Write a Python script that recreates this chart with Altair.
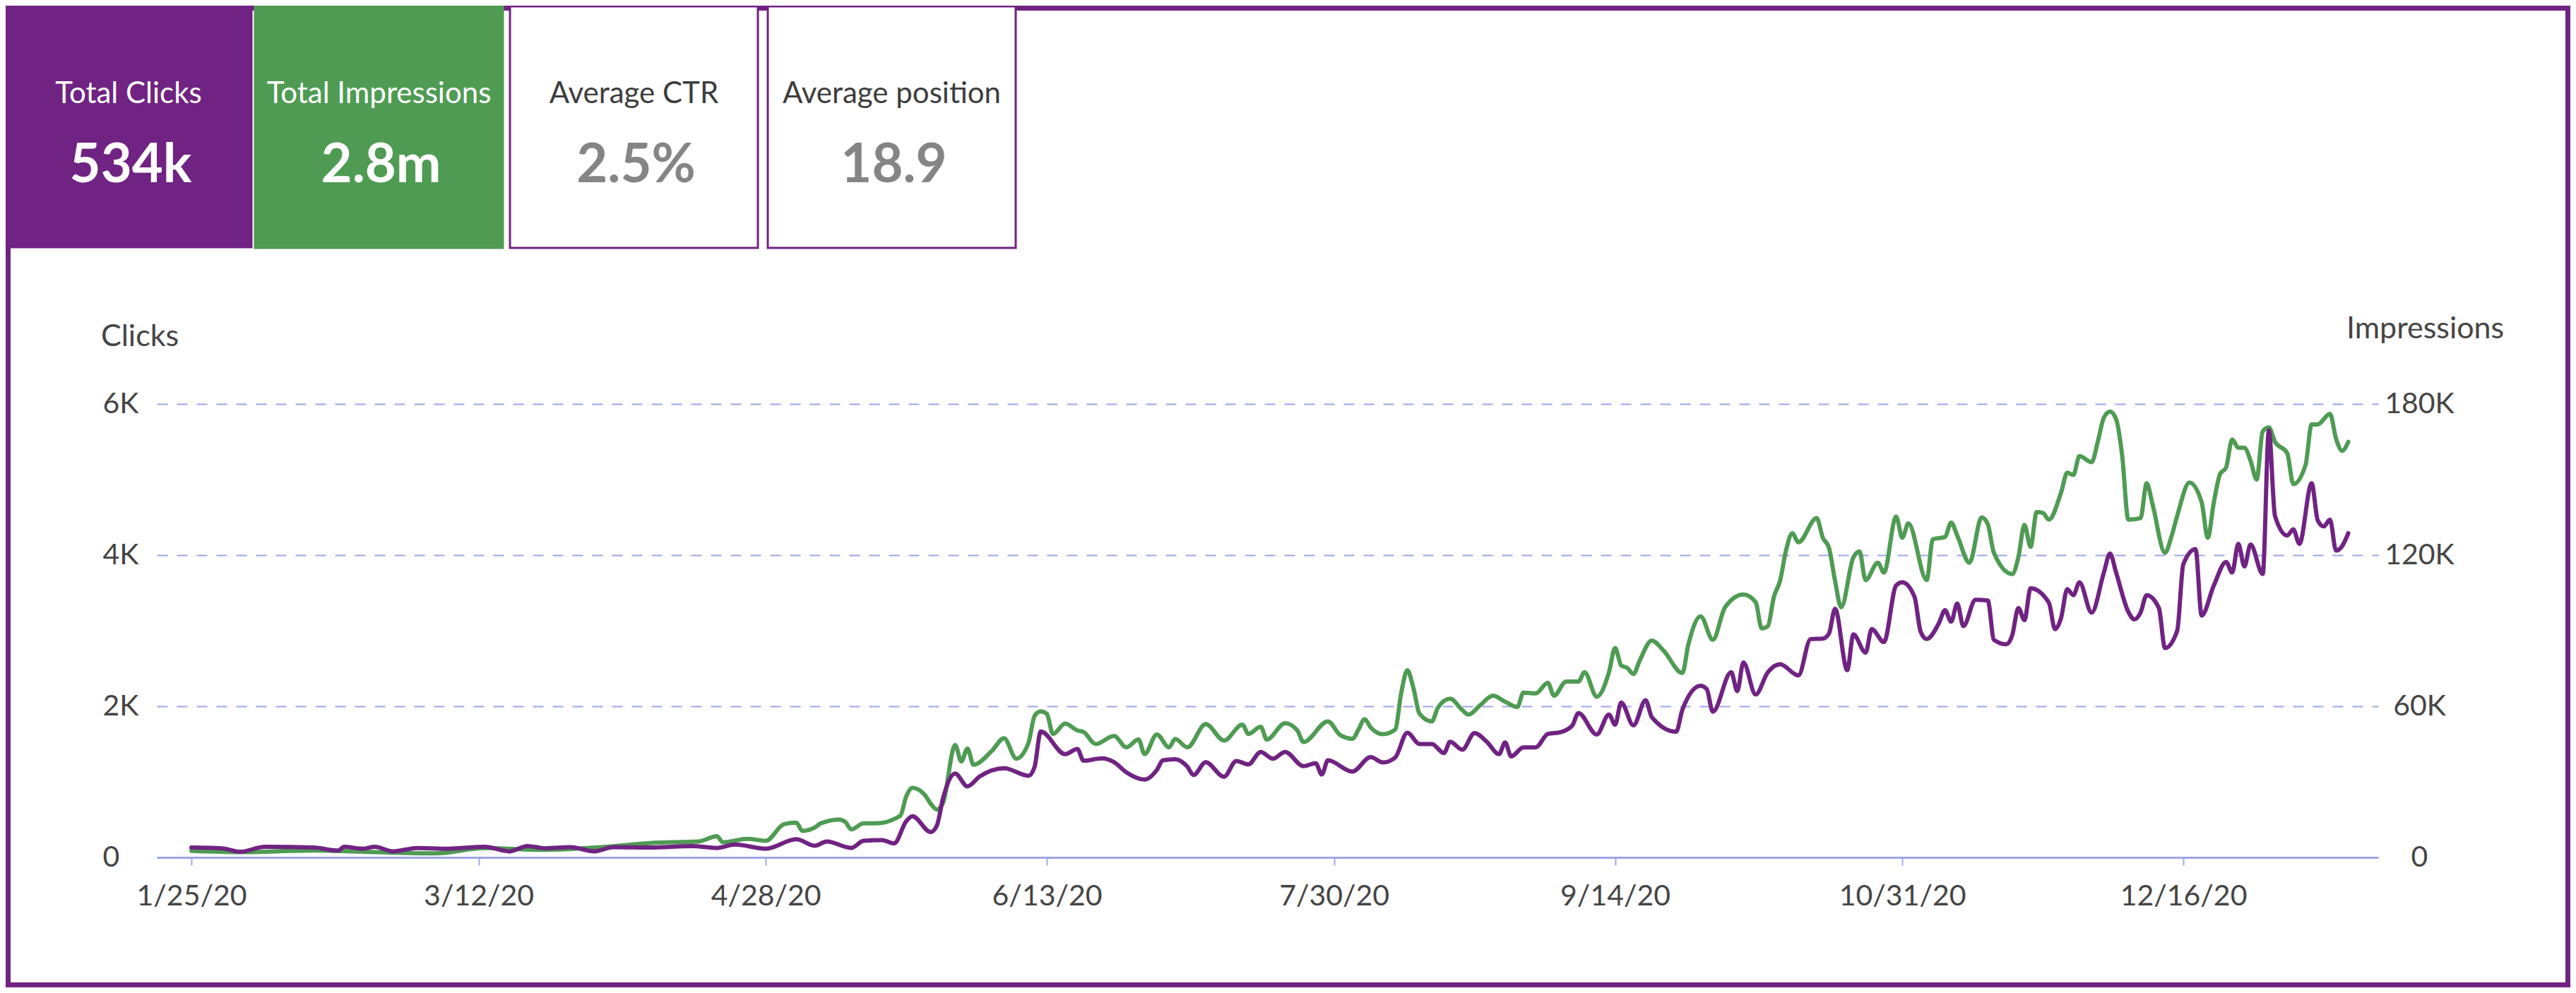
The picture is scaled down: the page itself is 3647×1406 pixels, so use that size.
import altair as alt
import pandas as pd

# ---------------- data ----------------
START = "2020-01-25"

click_days = [0, 5, 8, 12, 20, 24, 25, 28, 30, 33, 37, 42, 48, 52, 55, 58, 62, 66, 69, 75, 82, 86, 89, 94, 99,
              102, 104, 108, 110, 113, 115, 117, 118, 121, 122, 123, 125, 127, 129, 133, 137, 138, 139, 143, 145,
              146, 149, 151, 153, 156, 158, 159, 161, 163, 164, 166, 169, 171, 173, 175, 177, 179, 182, 184, 185,
              186, 190, 193, 195, 197, 199, 201, 203, 205, 206, 208, 210, 212, 214, 215, 216, 218, 220, 222, 224,
              226, 227, 230, 232, 233, 234, 236, 238, 239, 243, 244, 247, 248, 249, 252, 253, 254, 256, 258, 260,
              263, 265, 267, 268, 269, 271, 272, 274, 275, 277, 279, 280, 282, 283, 284, 286, 287, 288, 289, 290,
              292, 294, 295, 297, 298, 299, 300, 301, 304, 305, 306, 307, 308, 309, 311, 313, 314, 315, 317, 318,
              319, 320, 322, 323, 325, 326, 328, 329, 331, 333, 334, 335, 336, 337, 339, 340, 341, 343, 344, 345,
              347, 348, 349, 350, 351, 352, 353]
clicks = [130, 120, 75, 140, 130, 90, 140, 115, 140, 80, 125, 115, 140, 80, 150, 120, 135, 80, 135, 130, 150, 125,
          170, 115, 240,
          155, 210, 125, 220, 230, 185, 480, 545, 335, 420, 780, 1110, 940, 1070, 1180, 1080, 1200, 1665, 1366, 1435,
          1280, 1310, 1260, 1127, 1030, 1157, 1285, 1300, 1200, 1090, 1260, 1067, 1276, 1231, 1396, 1306, 1396, 1208,
          1246, 1097,
          1285, 1136, 1327, 1256, 1320, 1650, 1500, 1500, 1381, 1531, 1426, 1644, 1531, 1366, 1520, 1336, 1456, 1456,
          1635, 1656,
          1746, 1910, 1626, 1890, 1755, 2050, 1747, 2080, 1857, 1663, 1950, 2270, 2226, 1928, 2450, 2200, 2580, 2156,
          2450, 2557,
          2408, 2889, 2895, 2960, 3290, 2478, 2950, 2710, 3020, 2850, 3600, 3640, 3450, 2990, 2890, 3100, 3270, 3120,
          3360, 3060,
          3410, 3400, 2880, 2820, 2940, 3300, 3140, 3560, 3370, 3020, 3170, 3550, 3470, 3640, 3240, 3770, 4020, 3770,
          3250, 3150,
          3240, 3470, 3300, 2770, 3000, 3880, 4080, 3200, 3600, 3910, 3770, 4150, 3850, 4140, 3750, 5650, 4520, 4260,
          4340, 4150,
          4950, 4460, 4380, 4470, 4060, 4120, 4290]

impr_days = [0, 8, 20, 30, 40, 48, 57, 68, 75, 83, 86, 87, 91, 94, 97, 99, 100, 102, 103, 106, 107, 108, 110, 112,
             116, 117, 118, 120, 121, 122, 123, 125, 126, 127, 128, 131, 133, 135, 137, 138, 139, 140, 141, 143,
             145, 146, 148, 151, 153, 155, 156, 158, 160, 161, 163, 166, 169, 172, 173, 175, 176, 179, 181, 182,
             186, 188, 190, 191, 192, 193, 195, 197, 198, 199, 200, 201, 203, 204, 206, 208, 209, 211, 213, 215,
             217, 218, 220, 222, 223, 225, 227, 228, 230, 232, 233, 234, 235, 236, 237, 239, 241, 244, 245, 247,
             249, 251, 254, 256, 257, 258, 259, 260, 261, 262, 263, 266, 267, 268, 269, 270, 272, 273, 274, 276,
             277, 279, 280, 281, 284, 285, 287, 288, 289, 291, 293, 294, 295, 298, 299, 300, 301, 302, 303, 304,
             306, 307, 308, 309, 311, 312, 313, 314, 315, 316, 317, 319, 320, 321, 323, 324, 325, 327, 329, 330,
             331, 332, 333, 334, 335, 336, 337, 338, 339, 340, 341, 343, 344, 346, 347, 348, 350, 351, 352, 353]
impressions = [2610, 2100, 2700, 2100, 1620, 3750, 3000, 4200, 5700, 6300, 8400, 6000, 7350, 6600, 13200, 13800,
               10500, 11850, 13500, 15000, 14100, 11100, 13500, 13500,
               16500, 24300, 27600, 24900, 21300, 19000, 21600, 44600, 38100, 43200, 36800, 42300, 47300, 39200,
               45500, 56200, 58000, 57000, 49000, 53100,
               50400, 49800, 45000, 48200, 43700, 46800, 41000, 48800, 43700, 47000, 43700, 52900, 46400, 52700,
               49000, 51900, 46800, 53300, 50400, 45800,
               54000, 48600, 47100, 50700, 54900, 51600, 48900, 50700, 65300, 74300, 67200, 57000, 54000, 59400,
               63000, 58500, 56700, 60600, 64200, 61800,
               59700, 65400, 65100, 69300, 64200, 69800, 69800, 73500, 63800, 73500, 83100, 76200, 75200, 72800,
               78000, 86100, 81900, 73200, 84600, 95700,
               86400, 99300, 104400, 101400, 90900, 91800, 103500, 109800, 122100, 128700, 125100, 134700, 126900,
               123000, 109800, 99300, 119100, 121500, 110100, 117000,
               113100, 135300, 126900, 132600, 110100, 126300, 127200, 132900, 127800, 117000, 135000, 132300,
               120900, 112500, 119100, 132000, 123300, 137100, 136800, 134100,
               144900, 152700, 151800, 159300, 156900, 165000, 174600, 177000, 174000, 159300, 134100, 134700,
               148500, 139800, 120900, 126900, 135600, 148800, 141000, 126900,
               141000, 152100, 154800, 165900, 162600, 162600, 157500, 150000, 169200, 170700, 165000, 160500,
               148200, 155700, 171900, 171900, 176100, 166200, 161400, 165000]

x_tick_dates = [(2020, 1, 25), (2020, 3, 12), (2020, 4, 28), (2020, 6, 13),
                (2020, 7, 30), (2020, 9, 14), (2020, 10, 31), (2020, 12, 16)]
click_ticks = [0, 2000, 4000, 6000]
impr_ticks = [0, 60000, 120000, 180000]

card_labels = ["Total Clicks", "Total Impressions", "Average CTR", "Average position"]
card_values = ["534k", "2.8m", "2.5%", "18.9"]

# ---------------- style ----------------
PURPLE = "#702382"
GREEN = "#4f9b53"
GRID = "#9ea6e6"
TEXT = "#454545"
GRAYV = "#858585"
FONT = "Lato"

W, H = 3145, 642
PAD = {"left": 214, "top": 564, "right": 272, "bottom": 184}
OX, OY = 222, 572  # page position of plot origin


def px(X):
    return X - OX


def py(Y):
    return Y - OY


def to_dates(days):
    b = pd.Timestamp(START)
    return [(b + pd.Timedelta(days=int(d))).strftime("%Y-%m-%dT00:00:00") for d in days]


clicks_df = pd.DataFrame({"date": to_dates(click_days), "clicks": clicks})
impr_df = pd.DataFrame({"date": to_dates(impr_days), "impressions": impressions})
one = pd.DataFrame({"k": [0]})

x_scale = alt.Scale(domain=[alt.DateTime(year=2020, month=1, date=19, hours=8),
                            alt.DateTime(year=2021, month=1, date=16, hours=21, minutes=36)])
x_axis = alt.Axis(values=[alt.DateTime(year=y, month=m, date=d) for (y, m, d) in x_tick_dates],
                  format="%-m/%-d/%y", title=None, grid=False,
                  domain=True, domainColor=GRID, domainWidth=3,
                  ticks=True, tickColor=GRID, tickSize=11, tickWidth=2,
                  labelFont=FONT, labelFontSize=41, labelColor=TEXT, labelPadding=24,
                  labelFlush=False, labelOverlap=False, labelBaseline="top")

x_enc = alt.X("date:T", scale=x_scale, axis=x_axis)

impr_line = alt.Chart(impr_df).mark_line(
    interpolate="monotone", strokeWidth=6, color=GREEN, strokeCap="round", strokeJoin="round"
).encode(
    x=x_enc,
    y=alt.Y("impressions:Q", scale=alt.Scale(domain=[0, 180000], nice=False),
            axis=alt.Axis(orient="right", values=impr_ticks, title=None, grid=False, domain=False,
                          ticks=False, tickSize=0, labelAlign="center", labelPadding=58,
                          labelBaseline="middle",
                          labelExpr="datum.value == 0 ? '0' : (datum.value / 1000) + 'K'",
                          labelFont=FONT, labelFontSize=41, labelColor=TEXT)),
)

click_line = alt.Chart(clicks_df).mark_line(
    interpolate="monotone", strokeWidth=6, color=PURPLE, strokeCap="round", strokeJoin="round"
).encode(
    x=x_enc,
    y=alt.Y("clicks:Q", scale=alt.Scale(domain=[0, 6000], nice=False),
            axis=alt.Axis(orient="left", values=click_ticks, title=None, grid=True,
                          gridColor=GRID, gridDash=[15, 13], gridWidth=2, domain=False,
                          ticks=False, tickSize=0, labelAlign="left", labelPadding=77,
                          labelBaseline="middle",
                          labelExpr="datum.value == 0 ? '0' : (datum.value / 1000) + 'K'",
                          labelFont=FONT, labelFontSize=41, labelColor=TEXT)),
)

# ---------------- decorations: frame, cards, axis titles ----------------
layers = []

frame = alt.Chart(one).mark_rect(fillOpacity=0, stroke=PURPLE, strokeWidth=7).encode(
    x=alt.value(px(11.5)), x2=alt.value(px(3635.5)), y=alt.value(py(11.5)), y2=alt.value(py(1394.5)))
layers.append(frame)

cards = [
    (8, 356, 8, 350, PURPLE, PURPLE, "white", "white"),
    (361, 712, 8, 351, GREEN, GREEN, "white", "white"),
    (722, 1073, 9, 351, "white", PURPLE, "#3d3d3d", GRAYV),
    (1087, 1438, 9, 351, "white", PURPLE, "#3d3d3d", GRAYV),
]
for (x0, x1, y0, y1, fill, stroke, lc, vc), lab, val in zip(cards, card_labels, card_values):
    layers.append(alt.Chart(one).mark_rect(fill=fill, stroke=stroke, strokeWidth=3).encode(
        x=alt.value(px(x0)), x2=alt.value(px(x1)), y=alt.value(py(y0)), y2=alt.value(py(y1))))
    cx = (x0 + x1) / 2
    layers.append(alt.Chart(one).mark_text(
        text=lab, font=FONT, fontSize=42, color=lc, align="center", baseline="alphabetic").encode(
        x=alt.value(px(cx)), y=alt.value(py(146))))
    layers.append(alt.Chart(one).mark_text(
        text=val, font=FONT, fontSize=76, fontWeight="bold", color=vc, align="center",
        baseline="alphabetic").encode(
        x=alt.value(px(cx + 3)), y=alt.value(py(258))))

layers.append(alt.Chart(one).mark_text(
    text="Clicks", font=FONT, fontSize=43, color=TEXT, align="left", baseline="alphabetic").encode(
    x=alt.value(px(143)), y=alt.value(py(490))))
layers.append(alt.Chart(one).mark_text(
    text="Impressions", font=FONT, fontSize=43, color=TEXT, align="left", baseline="alphabetic").encode(
    x=alt.value(px(3322)), y=alt.value(py(479))))

layers.append(impr_line)
layers.append(click_line)

chart = alt.layer(*layers).resolve_scale(y="independent").properties(
    width=W, height=H, padding=PAD, autosize=alt.AutoSizeParams(type="none"),
    background="white",
).configure_view(stroke="transparent")

chart.save("out.html", embed_options={"renderer": "svg", "actions": False})
